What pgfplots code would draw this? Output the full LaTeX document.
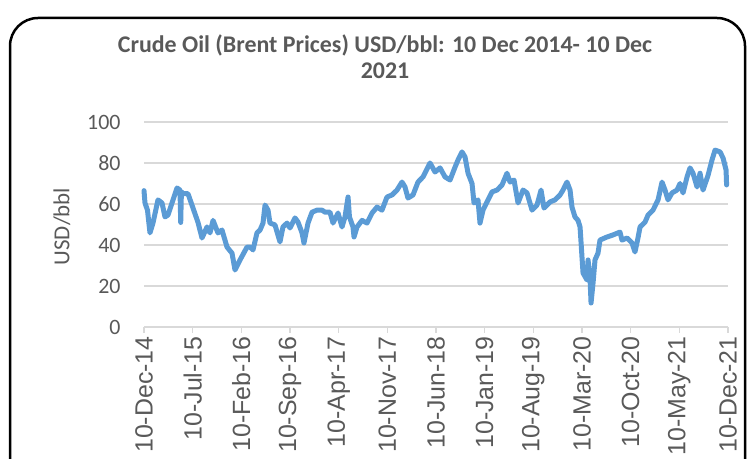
\documentclass[border=0pt]{standalone}
\usepackage{fontspec}
\setmainfont{Carlito}
\newfontfamily\arialf{Liberation Sans}
\usepackage{pgfplots}
\pgfplotsset{compat=1.18}
\definecolor{linec}{HTML}{5B9BD5}
\definecolor{txt}{HTML}{595959}
\definecolor{gridc}{HTML}{D9D9D9}
\begin{document}
\begin{tikzpicture}[x=1bp,y=1bp]
\useasboundingbox (0,0) rectangle (748,459);
\draw[line width=2.5bp, rounded corners=28bp] (10,-40) rectangle (745,441);
\node[text=txt, font=\fontsize{24}{26}\selectfont\bfseries, align=center] at (385,402) {Crude Oil (Brent Prices) USD/bbl: 10 Dec 2014- 10 Dec\\2021};
\begin{axis}[
  at={(144bp,132bp)}, anchor=south west,
  scale only axis, width=584bp, height=205bp,
  xmin=0, xmax=84, ymin=0, ymax=100,
  xtick={0,7,...,84},
  xticklabels={10-Dec-14,10-Jul-15,10-Feb-16,10-Sep-16,10-Apr-17,10-Nov-17,10-Jun-18,10-Jan-19,10-Aug-19,10-Mar-20,10-Oct-20,10-May-21,10-Dec-21},
  ytick={0,20,...,100},
  axis lines*=left,
  y axis line style={draw=none},
  x axis line style={gridc, line width=1.5bp},
  ymajorgrids, grid style={gridc, line width=1.5bp},
  ytick style={draw=none},
  xtick style={gridc, line width=1.5bp},
  tick align=outside, major tick length=6bp,
  /pgf/number format/assume math mode=true,
  yticklabel style={font=\fontsize{22}{22}\selectfont, text=txt, xshift=-14bp},
  xticklabel style={font=\arialf\fontsize{25}{25}\selectfont, text=txt, rotate=90, anchor=east},
  ylabel={USD/bbl},
  ylabel style={font=\fontsize{23}{23}\selectfont, text=txt, at={(axis description cs:-0.1404,0.49)}, anchor=center},
  clip=false,
]
\addplot[linec, line width=5bp, line join=round, line cap=round] coordinates {
(0,66.5)(0.14,60.5)(0.5,57)(0.86,45.9)(1.29,50.7)(2.01,62)(2.59,60.5)(3.02,53.7)(3.45,54.6)(4.03,60.5)(4.75,67.8)(5.18,66.8)(5.28,51)(5.38,66)(5.61,65)(6.33,65)(7.05,58)(7.77,51)(8.34,43.4)(9.06,48.8)(9.49,45.9)(9.93,52)(10.64,45.9)(11.22,47.3)(11.94,39)(12.66,36)(13.09,27.8)(13.81,32.7)(14.82,39)(15.25,39)(15.68,37.6)(16.25,45.9)(16.69,47.3)(17.12,50.7)(17.41,59.5)(17.84,57)(18.12,50.7)(18.84,49.8)(19.56,41.5)(19.99,48.8)(20.57,50.7)(21.00,48.3)(21.72,53.2)(22.15,51.2)(22.73,45.9)(23.01,41)(23.59,50.7)(24.17,56)(24.88,57)(25.60,57)(26.04,56)(26.75,56)(27.19,50.7)(27.91,55.6)(28.48,48.8)(28.91,53.7)(29.35,63.4)(29.55,53.7)(30.06,48.8)(30.21,43.9)(30.64,48.8)(31.36,52)(32.08,50.7)(32.80,55.6)(33.52,58.5)(34.23,57)(34.95,63.4)(35.67,64.4)(36.39,66.8)(37.11,70.7)(37.54,68.3)(37.97,62.9)(38.69,64.4)(39.41,70.7)(40.13,73.2)(41.14,80)(41.86,75.6)(42.58,77.6)(43.30,73.2)(44.02,71.7)(44.74,78)(45.17,81.5)(45.74,85.4)(46.17,83)(46.61,75)(47.18,70)(47.47,60.5)(48.04,62)(48.33,50.7)(48.76,57)(49.34,61)(50.06,65.9)(50.78,66.8)(51.50,69.3)(52.21,75)(52.65,70.7)(53.22,71.7)(53.80,60.5)(54.52,66.8)(55.09,65.4)(55.81,57)(56.53,59.5)(57.11,66.8)(57.54,58)(58.40,61)(59.12,62)(59.84,64.4)(60.27,66.8)(60.84,70.7)(61.28,66.8)(61.56,58.5)(61.99,53.7)(62.43,52)(62.72,48.8)(63.00,34)(63.15,26.3)(63.72,22.9)(63.87,32.7)(64.15,24.4)(64.30,11.7)(64.59,21.5)(64.87,32.7)(65.30,36)(65.59,42.4)(66.59,43.9)(67.46,44.9)(68.46,46.3)(68.75,42.4)(69.48,43.4)(70.19,41)(70.62,36.6)(71.05,43.4)(71.35,48.8)(72.07,51.2)(72.50,54.6)(73.21,57)(73.94,62)(74.51,70.7)(74.94,66.8)(75.37,62)(75.95,65.4)(76.67,66.8)(77.10,70)(77.53,65.4)(78.11,73.2)(78.54,77.6)(78.97,75)(79.55,68.3)(79.98,75)(80.41,66.8)(81.13,74)(81.70,81.5)(82.14,86.3)(82.86,85.4)(83.29,82.4)(83.72,76.6)(83.8,69.3)
};
\end{axis}
\end{tikzpicture}
\end{document}
